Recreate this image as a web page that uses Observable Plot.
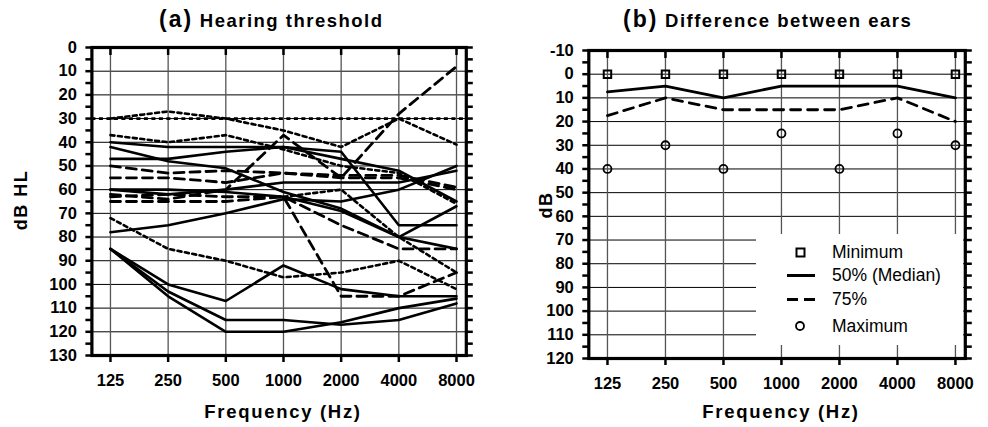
<!DOCTYPE html>
<html><head><meta charset="utf-8">
<script src="https://cdn.jsdelivr.net/npm/d3@7"></script>
<script src="https://cdn.jsdelivr.net/npm/@observablehq/plot@0.6"></script>
<style>
body{margin:0;background:#fff;}
#wrap{position:relative;width:988px;height:427px;overflow:hidden;font-family:"Liberation Sans",Arial,sans-serif;color:#000;background:#fff;}
.panel{position:absolute;top:0;width:494px;height:427px;}
.title{position:absolute;top:8px;white-space:nowrap;font-weight:bold;font-size:18.5px;line-height:1;letter-spacing:1.5px;}
.title .tag{font-size:23px;letter-spacing:2px;}
.xlab{position:absolute;top:412px;transform:translate(-50%,-50%);white-space:nowrap;font-weight:bold;font-size:18.5px;line-height:1;letter-spacing:1.7px;}
.ylab{position:absolute;transform:translate(-50%,-50%) rotate(-90deg);white-space:nowrap;font-weight:bold;font-size:18px;line-height:1;letter-spacing:1.5px;}
#legend{position:absolute;left:756px;top:234px;width:207px;height:111px;background:#fff;}
.row{position:absolute;left:0;width:207px;height:20px;}
.row svg{position:absolute;left:30px;top:0;}
.row span{position:absolute;left:76px;top:0;line-height:20px;font-size:17.5px;white-space:nowrap;}
</style></head><body>
<div id="wrap">
  <div class="panel" id="pa" style="left:0"></div>
  <div class="panel" id="pb" style="left:494px"></div>
  <div class="title" style="left:159px"><span class="tag">(a)</span> Hearing threshold</div>
  <div class="title" style="left:623px"><span class="tag">(b)</span> Difference between ears</div>
  <div class="xlab" style="left:283px">Frequency (Hz)</div>
  <div class="xlab" style="left:781px">Frequency (Hz)</div>
  <div class="ylab" style="left:21px;top:200px">dB HL</div>
  <div class="ylab" style="left:546px;top:205px">dB</div>
  <div id="legend">
    <div class="row" style="top:8px"><svg width="30" height="20"><rect x="10.5" y="6.5" width="8" height="8" fill="none" stroke="#000" stroke-width="2"/></svg><span>Minimum</span></div>
    <div class="row" style="top:31px"><svg width="30" height="20"><line x1="1" x2="29" y1="10.5" y2="10.5" stroke="#000" stroke-width="3"/></svg><span>50% (Median)</span></div>
    <div class="row" style="top:55px"><svg width="30" height="20"><line x1="1" x2="29" y1="10.5" y2="10.5" stroke="#000" stroke-width="3" stroke-dasharray="11,6"/></svg><span>75%</span></div>
    <div class="row" style="top:82px"><svg width="30" height="20"><circle cx="14" cy="10" r="4" fill="none" stroke="#000" stroke-width="1.8"/></svg><span>Maximum</span></div>
  </div>
</div>
<script>
// ---------- shared ----------
const freqs = [125, 250, 500, 1000, 2000, 4000, 8000];
const freqLabels = ["125", "250", "500", "1000", "2000", "4000", "8000"];

// ---------- panel (a): individual hearing thresholds (dB HL) ----------
const refLevel = [30];
const solidA = [42, 48, 51, 61, 68, 80, 85];
const solidB = [40, 42, 42, 42, 44, 75, 75];
const solidC = [47, 47, 44, 42, 47, 52, 65];
const solidD = [60, 60, 61, 63, 69, 80, 67];
const solidE = [60, 62, 60, 57, 57, 57, 52];
const solidF = [78, 75, 70, 64, 65, 60, 50];
const solidG = [85, 100, 107, 92, 102, 105, 105];
const solidH = [85, 103, 115, 115, 117, 115, 108];
const solidI = [85, 105, 120, 120, 116, 110, 106];

const dashA = [62, 64, 60, 37, 55, 28, 8];
const dashB = [65, 65, 65, 63, 105, 105, 95];
const dashC = [63, 62, 63, 63, 75, 85, 85];
const dashD = [50, 53, 52, 53, 54, 54, 59];
const dashE = [55, 55, 57, 53, 55, 55, 60];

const dotA = [30, 27, 30, 35, 42, 30, 41];
const dotB = [37, 40, 37, 43, 50, 53, 66];
const dotC = [72, 85, 90, 97, 95, 90, 102];
const dotD = [null, null, null, 63, 60, 80, 95];

const yTicksA = d3.range(0, 131, 5);
const gridA = d3.range(10, 130, 10);

// ---------- panel (b): difference between ears (dB) ----------
const minimum = [0, 0, 0, 0, 0, 0, 0];
const median = [7.5, 5, 10, 5, 5, 5, 10];
const p75 = [17.5, 10, 15, 15, 15, 10, 20];
const maximum = [40, 30, 40, 25, 40, 25, 30];

const yTicksB = d3.range(-10, 121, 5);
const gridB = d3.range(0, 120, 10);

// ---------- helpers ----------
function toRows(list, tag) {
  return list.flatMap((vals, i) => vals.map((v, j) => ({f: freqs[j], v, id: tag + i})));
}
function seriesRows(vals) { return vals.map((v, j) => ({f: freqs[j], v})); }

const solidRows = toRows([solidA, solidB, solidC, solidD, solidE, solidF, solidG, solidH, solidI], "s");
const dashRows = toRows([dashA, dashB, dashC, dashD, dashE], "d");
const dotRows = toRows([dotA, dotB, dotC, dotD], "o");
const labelRows = freqs.map((f, i) => ({f, label: freqLabels[i]}));

const font = {fontFamily: "'Liberation Sans', Arial, sans-serif", fontSize: "16px", fontWeight: "bold", background: "transparent", overflow: "visible"};

function axes(yTicks) {
  return [
    Plot.axisY({ticks: yTicks, tickFormat: d => (d % 10 === 0 ? String(d) : ""), tickSize: 6, tickPadding: 9, strokeWidth: 2.5, fontWeight: "bold", fontSize: 16.5, label: null}),
    Plot.axisY({anchor: "right", ticks: yTicks, tickFormat: () => "", tickSize: 6, strokeWidth: 2.5, label: null}),
    Plot.axisX({ticks: freqs, tickFormat: () => "", tickSize: 7, strokeWidth: 2.5, label: null}),
    Plot.axisX({anchor: "top", ticks: freqs, tickFormat: () => "", tickSize: -7, strokeWidth: 2.5, label: null}),
    Plot.text(labelRows, {x: "f", text: "label", frameAnchor: "bottom", lineAnchor: "top", dy: 19, fontSize: 16.5, fontWeight: "bold", fill: "#000"})
  ];
}

const plotA = Plot.plot({
  width: 494, height: 427,
  marginLeft: 91.4, marginRight: 28.2, marginTop: 47, marginBottom: 72,
  x: {type: "log", domain: [100, 9000], label: null},
  y: {domain: [0, 130], reverse: true, label: null},
  style: font,
  marks: [
    Plot.gridY(gridA, {stroke: "#000", strokeOpacity: 1, strokeWidth: 1}),
    Plot.gridX(freqs, {stroke: "#555", strokeOpacity: 1, strokeWidth: 1.3}),
    Plot.ruleY(refLevel, {stroke: "#000", strokeWidth: 2.6, strokeDasharray: "4,3.5"}),
    Plot.line(dotRows, {x: "f", y: "v", z: "id", stroke: "#000", strokeWidth: 2.6, strokeDasharray: "4,3.5"}),
    Plot.line(dashRows, {x: "f", y: "v", z: "id", stroke: "#000", strokeWidth: 2.8, strokeDasharray: "10,6"}),
    Plot.line(solidRows, {x: "f", y: "v", z: "id", stroke: "#000", strokeWidth: 2.6}),
    Plot.frame({stroke: "#000", strokeWidth: 3.2}),
    ...axes(yTicksA)
  ]
});
document.getElementById("pa").append(plotA);

const plotB = Plot.plot({
  width: 494, height: 427,
  marginLeft: 94.3, marginRight: 23.2, marginTop: 50, marginBottom: 69,
  x: {type: "log", domain: [100, 9000], label: null},
  y: {domain: [-10, 120], reverse: true, label: null},
  style: font,
  marks: [
    Plot.gridY(gridB, {stroke: "#000", strokeOpacity: 1, strokeWidth: 1}),
    Plot.gridX(freqs, {stroke: "#555", strokeOpacity: 1, strokeWidth: 1.3}),
    Plot.line(seriesRows(median), {x: "f", y: "v", stroke: "#000", strokeWidth: 2.8}),
    Plot.line(seriesRows(p75), {x: "f", y: "v", stroke: "#000", strokeWidth: 2.8, strokeDasharray: "10,7"}),
    Plot.dot(seriesRows(minimum), {x: "f", y: "v", symbol: "square", r: 4.2, fill: "none", stroke: "#000", strokeWidth: 2}),
    Plot.dot(seriesRows(maximum), {x: "f", y: "v", symbol: "circle", r: 4, fill: "none", stroke: "#000", strokeWidth: 1.8}),
    Plot.frame({stroke: "#000", strokeWidth: 3.2}),
    ...axes(yTicksB)
  ]
});
document.getElementById("pb").append(plotB);
</script>
</body></html>
